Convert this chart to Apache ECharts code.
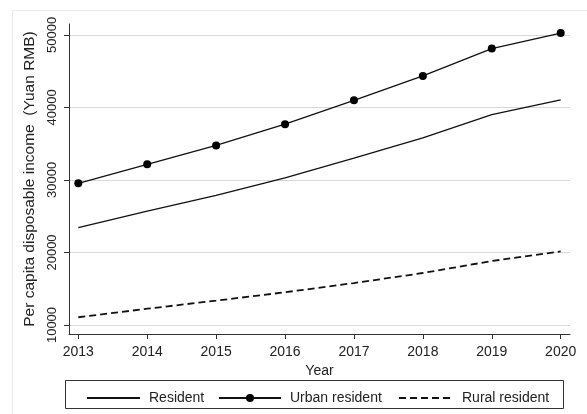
<!DOCTYPE html>
<html>
<head>
<meta charset="utf-8">
<script src="https://cdn.jsdelivr.net/npm/echarts@6/dist/echarts.min.js"></script>
<style>html,body{margin:0;padding:0;background:#fff;}#c{width:587px;height:414px;}</style>
</head>
<body>
<div id="c"></div>
<script>
const years = [2013, 2014, 2015, 2016, 2017, 2018, 2019, 2020];
const resident = [23421, 25685, 27859, 30296, 33003, 35810, 39014, 41029];
const urban = [29537, 32148, 34757, 37684, 40975, 44341, 48118, 50257];
const rural = [11068, 12246, 13360, 14512, 15780, 17168, 18818, 20143];
const yTicks = [10000, 20000, 30000, 40000, 50000];
const xTicks = years;

const FONT = '"Liberation Sans", Arial, sans-serif';
const pair = (arr) => years.map((y, i) => [y, arr[i]]);

const chart = echarts.init(document.getElementById('c'), null, {renderer: 'canvas'});
chart.setOption({
  animation: false,
  backgroundColor: '#fff',
  textStyle: {fontFamily: FONT, color: '#000'},
  grid: {left: 69, right: 17, top: 24, bottom: 80, containLabel: false},
  xAxis: {
    type: 'value', min: 2012.865, max: 2020.135,
    name: 'Year', nameLocation: 'middle', nameGap: 24,
    nameTextStyle: {fontFamily: FONT, fontSize: 14, color: '#222'},
    axisLine: {show: true, onZero: false, lineStyle: {color: '#333', width: 1}},
    axisTick: {show: true, length: 5, lineStyle: {color: '#333'}, customValues: xTicks},
    axisLabel: {fontFamily: FONT, fontSize: 14, color: '#222', margin: 11, customValues: xTicks, formatter: v => String(v)},
    splitLine: {show: false}
  },
  yAxis: {
    type: 'value', min: 8760, max: 51500,
    name: 'Per capita disposable income  (Yuan RMB)', nameLocation: 'middle', nameGap: 29,
    nameTextStyle: {fontFamily: FONT, fontSize: 15.5, color: '#222'},
    axisLine: {show: true, lineStyle: {color: '#333', width: 1}},
    axisTick: {show: true, length: 5, lineStyle: {color: '#333'}, customValues: yTicks},
    axisLabel: {fontFamily: FONT, fontSize: 13, color: '#222', rotate: 90, margin: 10, customValues: yTicks, formatter: v => String(v)},
    splitLine: {show: true, lineStyle: {color: '#d9d9d9', width: 1}}
  },
  legend: [
    {data: ['Resident'], left: 81, top: 386, itemWidth: 53, itemHeight: 10, itemGap: 0,
     itemStyle: {opacity: 0},
     textStyle: {fontFamily: FONT, fontSize: 14, color: '#222', padding: [0,0,0,4]}},
    {data: ['Urban resident'], left: 213, top: 386, itemWidth: 62, itemHeight: 10, itemGap: 0,
     textStyle: {fontFamily: FONT, fontSize: 14, color: '#222', padding: [0,0,0,4]}},
    {data: ['Rural resident'], left: 393, top: 386, itemWidth: 54, itemHeight: 10, itemGap: 0,
     itemStyle: {opacity: 0},
     textStyle: {fontFamily: FONT, fontSize: 14, color: '#222', padding: [0,0,0,4]}}
  ],
  graphic: [
    {type: 'rect', shape: {x: 12.5, y: 10.5, width: 580, height: 420}, style: {fill: 'none', stroke: '#e8ecef', lineWidth: 1}, silent: true, z: -1},
    {type: 'rect', shape: {x: 65.5, y: 380.5, width: 498, height: 28}, style: {fill: 'none', stroke: '#333', lineWidth: 1}, silent: true}
  ],
  series: [
    {name: 'Resident', type: 'line', data: pair(resident), symbol: 'none',
     lineStyle: {color: '#111', width: 1.3}, itemStyle: {color: '#111'}},
    {name: 'Urban resident', type: 'line', data: pair(urban), symbol: 'circle', symbolSize: 8, showSymbol: true,
     lineStyle: {color: '#111', width: 1.3}, itemStyle: {color: '#000'}},
    {name: 'Rural resident', type: 'line', data: pair(rural), symbol: 'none',
     lineStyle: {color: '#111', width: 1.8, type: [7, 4]}, itemStyle: {color: '#111'}}
  ]
});
</script>
</body>
</html>
